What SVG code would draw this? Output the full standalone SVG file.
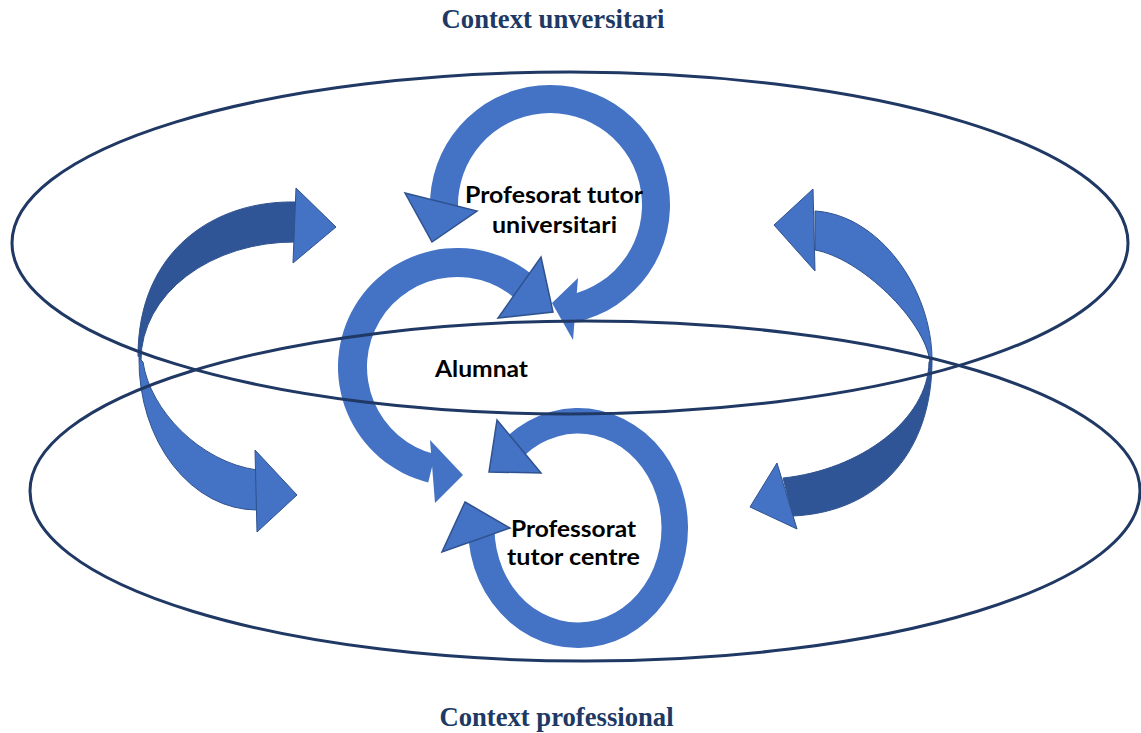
<svg xmlns="http://www.w3.org/2000/svg" width="1141" height="733" viewBox="0 0 1141 733">
<style>
.ell{fill:none;stroke:#203864;stroke-width:3}
.band{fill:#4472C4}
.tri{fill:#4472C4;stroke:#2F528F;stroke-width:1.5;stroke-linejoin:miter}
.light{fill:#4472C4;stroke:#2F528F;stroke-width:1}
.dark{fill:#2F5597;stroke:#2F528F;stroke-width:1}
.title{font-family:'Liberation Serif','Times New Roman',serif;font-weight:bold;font-size:26.67px;fill:#203864}
.lbl{font-family:Lato,'Liberation Sans',Arial,sans-serif;font-weight:bold;font-size:22px;fill:#000}
</style>
<rect width="1141" height="733" fill="#fff"/>
<g id="connectors">
  <g id="arrow-left">
    <path class="dark" d="M296 202 C215 200 138 250 138 356 L141 360 A153 118 0 0 1 296 242 Z"/>
    <path class="light" d="M296 188 L336 227 L293 263 Z"/>
    <path class="light" d="M139 358 A118 150 0 0 0 257 510 L257 470 C200 462 150 410 143 362 Z"/>
    <path class="light" d="M255 450 L297 495 L257 532 Z"/>
  </g>
  <g id="arrow-right">
    <path class="light" d="M815 211 C880 215 932 290 932 360 L930 362 C925 320 860 258 815 250 Z"/>
    <path class="light" d="M813 189 L774 225 L815 271 Z"/>
    <path class="dark" d="M932 358 C933 450 880 512 793 516 L783 478 C860 470 928 420 929 362 Z"/>
    <path class="light" d="M777 463 L750 507 L797 529 Z"/>
  </g>
</g>
<g id="node-profesorat-universitari">
  <path class="band" d="M430.07 209.19 A120 120 0 1 1 575 322.4 L569.1 295 A92 92 0 1 0 458.06 208.21 Z"/>
  <path class="band" d="M578 278 L552 303 L573 340 Z"/>
  <path class="tri" d="M405 193 L477 211 L432 242 Z"/>
  <text class="lbl" x="465" y="203" textLength="178" lengthAdjust="spacingAndGlyphs">Profesorat tutor</text>
  <text class="lbl" x="492" y="233" textLength="125" lengthAdjust="spacingAndGlyphs">universitari</text>
</g>
<g id="node-alumnat">
  <path class="band" d="M428.21 482.46 A119 119 0 1 1 545.43 287.37 L523.88 306.78 A90 90 0 1 0 435.23 454.33 Z"/>
  <path class="band" d="M430 440 L463 475 L435 503 Z"/>
  <path class="tri" d="M541 257 L553 312 L498 318 Z"/>
  <text class="lbl" x="435" y="377" textLength="93" lengthAdjust="spacingAndGlyphs">Alumnat</text>
</g>
<g id="node-professorat-centre">
  <path class="band" d="M507.29 436.08 A110 120 0 1 1 468 528 L494.5 528 A83.5 94.5 0 1 0 524.33 455.61 Z"/>
  <path class="tri" d="M497 420 L489 472 L541 473 Z"/>
  <path class="tri" d="M465 502 L510 528 L442 552 Z"/>
  <text class="lbl" x="511" y="537" textLength="125" lengthAdjust="spacingAndGlyphs">Professorat</text>
  <text class="lbl" x="507" y="565" textLength="133" lengthAdjust="spacingAndGlyphs">tutor centre</text>
</g>
<g id="context-universitari">
  <ellipse class="ell" cx="570" cy="243" rx="558" ry="171"/>
  <text class="title" x="553" y="28" text-anchor="middle">Context unversitari</text>
</g>
<g id="context-professional">
  <ellipse class="ell" cx="585" cy="491" rx="555" ry="170"/>
  <text class="title" x="556.5" y="726" text-anchor="middle">Context professional</text>
</g>
</svg>
